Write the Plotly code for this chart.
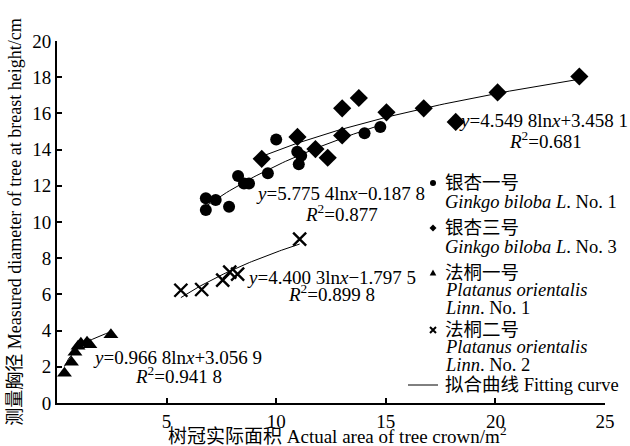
import numpy as np
import plotly.graph_objects as go

# ---- data ----
g1_x = [6.79, 7.24, 6.79, 7.85, 8.26, 8.53, 8.76, 9.62, 10.0, 10.96, 11.14, 11.03, 14.03, 14.75]
g1_y = [11.31, 11.21, 10.66, 10.84, 12.54, 12.13, 12.13, 12.69, 14.56, 13.88, 13.66, 13.19, 14.90, 15.25]

g3_x = [9.34, 10.97, 11.79, 12.35, 13.01, 13.77, 13.01, 15.03, 16.73, 18.19, 20.10, 23.83]
g3_y = [13.49, 14.70, 14.03, 13.55, 16.28, 16.85, 14.78, 16.06, 16.28, 15.53, 17.16, 18.04]

p1_x = [0.34, 0.66, 0.82, 0.96, 1.09, 1.37, 1.50, 2.46]
p1_y = [1.64, 2.25, 2.80, 3.14, 3.30, 3.36, 3.22, 3.77]

p2_x = [5.65, 6.60, 7.56, 7.88, 8.24, 11.07]
p2_y = [6.23, 6.27, 6.79, 7.23, 7.12, 9.05]

# fitted logarithmic coefficients shown on the chart (a*ln x + b)
fit_g1 = (5.7754, -0.1878)
fit_g3 = (4.5498, 3.4581)
fit_p1 = (0.9668, 3.0569)
fit_p2 = (4.4003, -1.7975)

legend_lines = [
    ["银杏一号", "<i>Ginkgo biloba L</i>. No. 1"],
    ["银杏三号", "<i>Ginkgo biloba L</i>. No. 3"],
    ["法桐一号", "<i>Platanus orientalis</i>", "<i>Linn</i>. No. 1"],
    ["法桐二号", "<i>Platanus orientalis</i>", "<i>Linn</i>. No. 2"],
]
fit_name = "拟合曲线 Fitting curve"

x_ticks = [5, 10, 15, 20, 25]
y_ticks = [0, 2, 4, 6, 8, 10, 12, 14, 16, 18, 20]

SERIF = "Liberation Serif, Times New Roman, Noto Sans CJK SC, serif"

# plot area in pixels
L, R, T, B = 57, 605, 41, 403
W, H = 630, 446

def px(xp):
    return (xp - L) / (R - L)

def py(yp):
    return (B - yp) / (B - T)

fig = go.Figure()

def fit_curve(xs, coef):
    xx = np.linspace(min(xs), max(xs), 60)
    return xx, coef[0] * np.log(xx) + coef[1]

series = [
    (g1_x, g1_y, fit_g1, "circle", 12, 0),
    (g3_x, g3_y, fit_g3, "diamond", 14, 0),
    (p1_x, p1_y, fit_p1, "triangle-up", 13, 0),
    (p2_x, p2_y, fit_p2, "x-thin", 13, 2.4),
]

for xs, ys, coef, sym, size, lw in series:
    cx, cy = fit_curve(xs, coef)
    fig.add_trace(go.Scatter(x=cx, y=cy, mode="lines",
                             line=dict(color="black", width=1),
                             showlegend=False, hoverinfo="skip"))
for (xs, ys, coef, sym, size, lw) in series:
    fig.add_trace(go.Scatter(x=xs, y=ys, mode="markers",
                             marker=dict(symbol=sym, size=size, color="black",
                                         line=dict(color="black", width=lw)),
                             showlegend=False))

# ---- equation labels ----
ann_font = dict(family=SERIF, size=19, color="black")
anns = [
    (22.2, 15.63, "<i>y</i>=4.549 8ln<i>x</i>+3.458 1"),
    (22.3, 14.52, "<i>R</i><sup>2</sup>=0.681"),
    (12.93, 11.59, "<i>y</i>=5.775 4ln<i>x</i>−0.187 8"),
    (12.98, 10.49, "<i>R</i><sup>2</sup>=0.877"),
    (12.52, 6.95, "<i>y</i>=4.400 3ln<i>x</i>−1.797 5"),
    (12.52, 6.06, "<i>R</i><sup>2</sup>=0.899 8"),
    (5.51, 2.53, "<i>y</i>=0.966 8ln<i>x</i>+3.056 9"),
    (5.55, 1.53, "<i>R</i><sup>2</sup>=0.941 8"),
]
for ax, ay, t in anns:
    fig.add_annotation(x=ax, y=ay, xref="x", yref="y", text=t, showarrow=False,
                       font=ann_font, xanchor="center", yanchor="middle")

# ---- legend (drawn manually for tight line spacing) ----
leg_font = dict(family=SERIF, size=18.5, color="black")
line_y = [[183, 202], [228, 247], [273, 290, 308], [330, 347, 365]]
text_x = 443
mark_x = 433
for lines, ys in zip(legend_lines, line_y):
    for t, yy in zip(lines, ys):
        fig.add_annotation(x=px(text_x), y=py(yy), xref="paper", yref="paper",
                           text=t, showarrow=False, font=leg_font,
                           xanchor="left", yanchor="middle")
fig.add_annotation(x=px(text_x), y=py(385), xref="paper", yref="paper",
                   text=fit_name, showarrow=False, font=leg_font,
                   xanchor="left", yanchor="middle")

sym_common = dict(xref="paper", yref="paper", xsizemode="pixel", ysizemode="pixel",
                  fillcolor="black", line=dict(color="black", width=0), layer="above")
# circle
fig.add_shape(type="circle", xanchor=px(mark_x), yanchor=py(line_y[0][0]),
              x0=-3, x1=3, y0=-3, y1=3, **sym_common)
# diamond
fig.add_shape(type="path", xanchor=px(mark_x), yanchor=py(line_y[1][0]),
              path="M 0 3.5 L 3.5 0 L 0 -3.5 L -3.5 0 Z", **sym_common)
# triangle
fig.add_shape(type="path", xanchor=px(mark_x), yanchor=py(line_y[2][0]),
              path="M 0 3.5 L 3.3 -2.5 L -3.3 -2.5 Z", **sym_common)
# cross
cross_common = dict(xref="paper", yref="paper", xsizemode="pixel", ysizemode="pixel",
                    line=dict(color="black", width=2), layer="above")
fig.add_shape(type="path", xanchor=px(mark_x), yanchor=py(line_y[3][0]),
              path="M -3 -3 L 3 3 M -3 3 L 3 -3", **cross_common)
# fitting curve sample line
fig.add_shape(type="line", xref="paper", yref="paper",
              x0=px(408), x1=px(438), y0=py(385), y1=py(385),
              line=dict(color="black", width=1))

# ---- x axis title ----
fig.add_annotation(x=px(337), y=py(435), xref="paper", yref="paper",
                   text="树冠实际面积 Actual area of tree crown/m<sup>2</sup>",
                   showarrow=False, font=dict(family=SERIF, size=19, color="black"),
                   xanchor="center", yanchor="middle")

fig.update_layout(
    width=W, height=H,
    margin=dict(l=L, r=W - R, t=T, b=H - B),
    paper_bgcolor="white", plot_bgcolor="white",
    font=dict(family=SERIF, size=18, color="black"),
    showlegend=False,
    xaxis=dict(range=[0, 25], tickvals=x_ticks, showgrid=False, zeroline=False,
               showline=True, linecolor="black", linewidth=2, automargin=False,
               ticks="inside", ticklen=5, tickwidth=1.5, tickcolor="black",
               tickfont=dict(family=SERIF, size=19)),
    yaxis=dict(range=[0, 20], tickvals=y_ticks, showgrid=False, zeroline=False,
               showline=True, linecolor="black", linewidth=2, automargin=False,
               ticks="inside", ticklen=5, tickwidth=1.5, tickcolor="black",
               tickfont=dict(family=SERIF, size=19),
               title=dict(text="测量胸径 Measured diameter of tree at breast height/cm",
                          font=dict(family=SERIF, size=18), standoff=6)),
)

fig.write_html("out.html", config={"displayModeBar": False},
               post_script="document.body.style.margin='0';document.body.style.overflow='hidden';")
